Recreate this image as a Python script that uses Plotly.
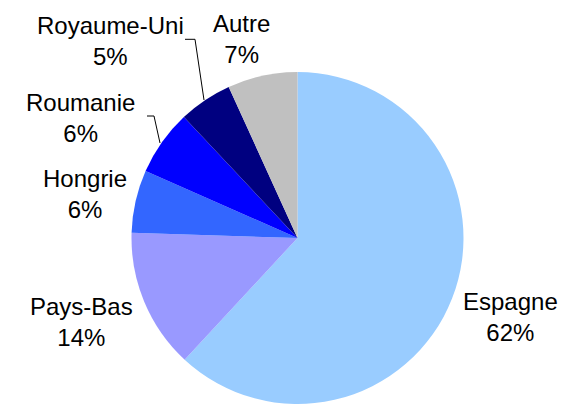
import plotly.graph_objects as go

labels = ["Espagne", "Pays-Bas", "Hongrie", "Roumanie", "Royaume-Uni", "Autre"]
values = [61.9, 13.6, 6.1, 6.4, 5.2, 6.8]
colors = ["#99CCFF", "#9999FF", "#3366FF", "#0000FF", "#000080", "#C0C0C0"]

W, H = 572, 405
OFF = 8  # page body margin

def px(x):
    return (x - OFF) / W

def py(y):
    return 1 - (y - OFF) / H

fig = go.Figure()
fig.add_trace(go.Pie(
    labels=labels, values=values, sort=False, direction="clockwise", rotation=0,
    marker=dict(colors=colors, line=dict(width=0)),
    textinfo="none", hoverinfo="label+percent", showlegend=False,
    domain=dict(x=[px(131.5), px(463.5)], y=[py(404), py(72)]),
))

# label positions (pixel centres on screen)
label_pos = {
    "Espagne": (510, 317),
    "Pays-Bas": (81, 322),
    "Hongrie": (85, 194),
    "Roumanie": (80, 118),
    "Royaume-Uni": (110, 41),
    "Autre": (241, 39),
}
total = sum(values)
for lab, val in zip(labels, values):
    x, y = label_pos[lab]
    fig.add_annotation(
        x=px(x), y=py(y), xref="paper", yref="paper",
        text=f"{lab}<br>{round(100 * val / total)}%",
        showarrow=False, xanchor="center", yanchor="middle", align="center",
        font=dict(family="Arial, Liberation Sans, sans-serif", size=24, color="#000000"),
    )

leaders = [
    [(185, 39.3), (195, 39.3), (204, 100)],
    [(147, 116), (154, 116), (160, 143)],
]
for pts in leaders:
    path = "M " + " L ".join(f"{px(a)},{py(b)}" for a, b in pts)
    fig.add_shape(type="path", path=path, xref="paper", yref="paper",
                  line=dict(color="#000000", width=1))

fig.update_layout(
    width=W, height=H, margin=dict(l=0, r=0, t=0, b=0),
    paper_bgcolor="white", plot_bgcolor="white",
)
fig.write_html("out.html")
